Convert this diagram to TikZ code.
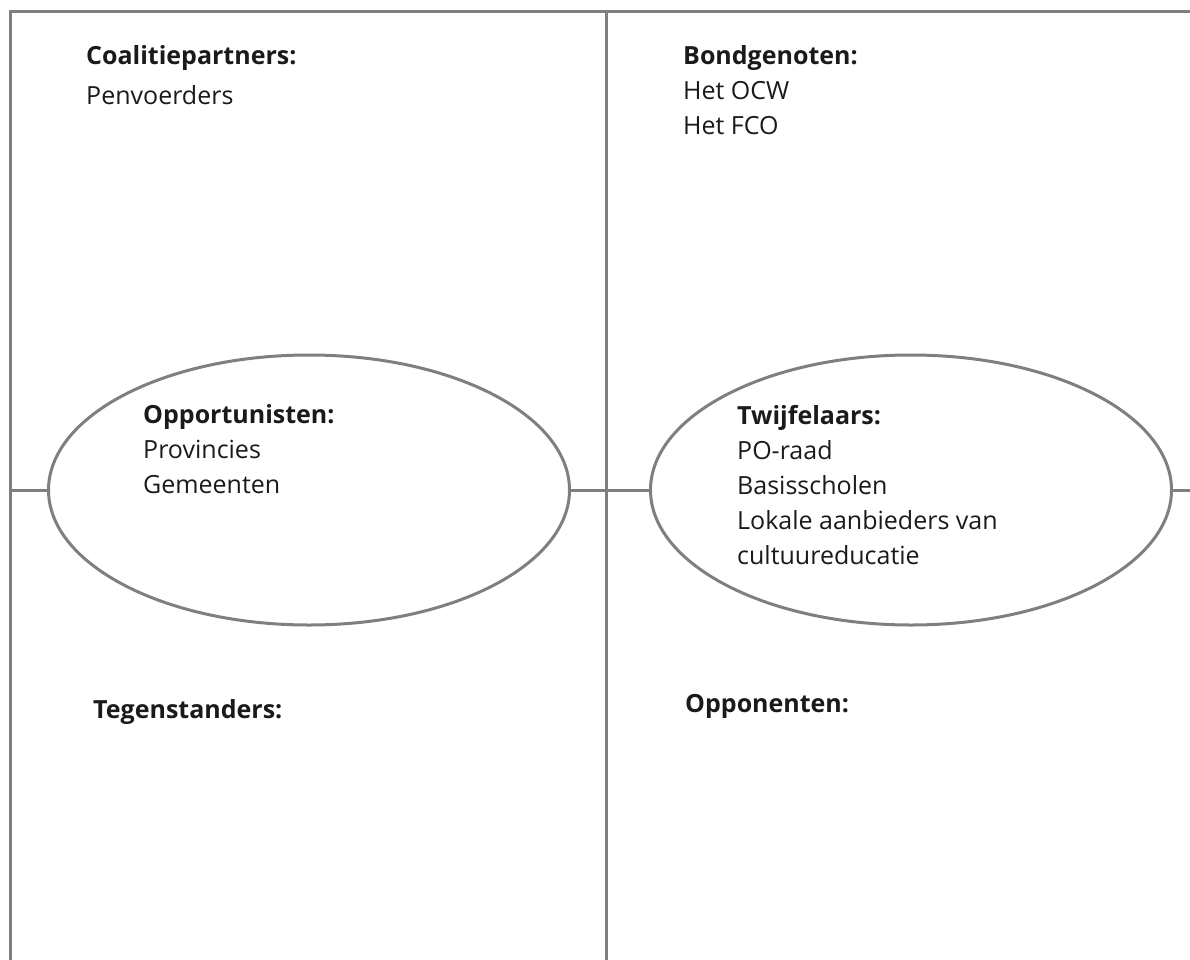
\documentclass[tikz,border=0pt]{standalone}
\usepackage{fontspec}
\setmainfont{Open Sans}
\usetikzlibrary{shapes.geometric,positioning}

\definecolor{framegray}{HTML}{7F7F7F}
\definecolor{inkdark}{HTML}{1A1A1A}

\tikzset{
  frameline/.style={draw=framegray, line width=3pt},
  groupbox/.style={ellipse, draw=framegray, line width=3pt, inner sep=0pt,
    minimum width=521pt, minimum height=270pt},
  grouplabel/.style={anchor=north west, inner sep=0pt, align=left, text=inkdark,
    font=\fontsize{25}{35}\selectfont},
}

\begin{document}
\begin{tikzpicture}[x=1pt, y=-1pt]
    \useasboundingbox (0,0) rectangle (1190,960);

    %% frame of the four fields
    \coordinate (topleft) at (10,12);
    \coordinate (topmid) at (606,12);
    \coordinate (topright) at (1190,12);
    \coordinate (botleft) at (10,960);
    \coordinate (botmid) at (606,960);
    \coordinate (midleft) at (10,490);
    \coordinate (midright) at (1190,490);

    \draw[frameline] (botleft) -- (topleft) -- (topright);
    \draw[frameline] (topmid) -- (botmid);

    %% the two ellipses on the middle line
    \node[groupbox] (opport) at (309,490) {};
    \node[groupbox] (twijf) at (911,490) {};

    \draw[frameline] (midleft) -- (opport.west);
    \draw[frameline] (opport.east) -- (twijf.west);
    \draw[frameline] (twijf.east) -- (midright);

    %% texts
    \node[grouplabel] (coalitie) at (86,45) {\textbf{Coalitiepartners:}\\[5pt]Penvoerders};
    \node[grouplabel] (bondgen) at (683,45) {\textbf{Bondgenoten:}\\Het OCW\\Het FCO};
    \node[grouplabel] (opporttext) at (143,404) {\textbf{Opportunisten:}\\Provincies\\Gemeenten};
    \node[grouplabel] (twijftext) at (737,405) {\textbf{Twijfelaars:}\\PO-raad\\Basisscholen\\Lokale aanbieders van\\cultuureducatie};
    \node[grouplabel] (tegen) at (93,699) {\textbf{Tegenstanders:}};
    \node[grouplabel] (oppon) at (685,694) {\textbf{Opponenten:}};

\end{tikzpicture}
\end{document}
